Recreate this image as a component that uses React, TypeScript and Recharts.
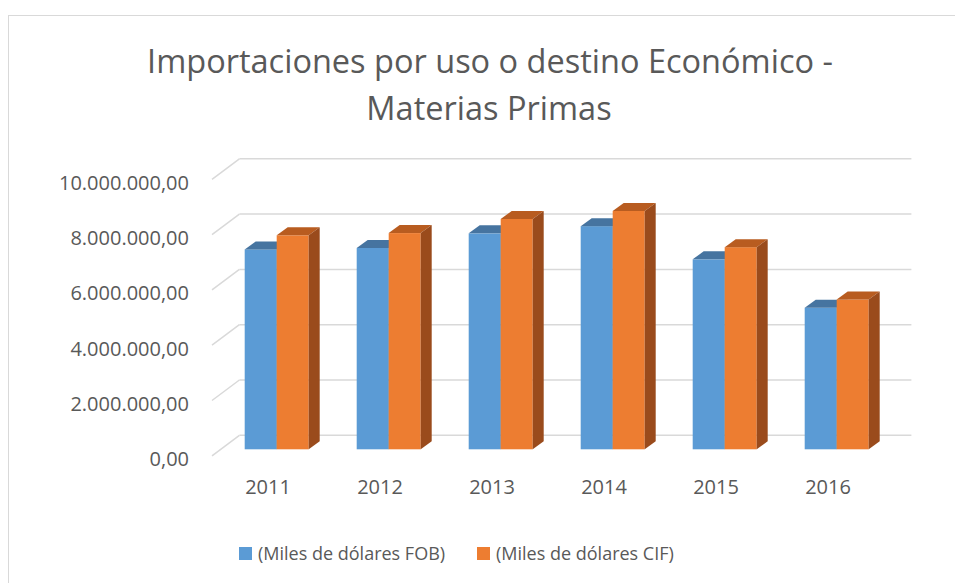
import React from 'react';
import { BarChart, Bar, XAxis, YAxis, CartesianGrid, Legend } from 'recharts';

const years = ['2011', '2012', '2013', '2014', '2015', '2016'];
const fobValues = [7230000, 7280000, 7810000, 8070000, 6870000, 5120000];
const cifValues = [7740000, 7820000, 8330000, 8620000, 7310000, 5420000];
const yTicks = [0, 2000000, 4000000, 6000000, 8000000, 10000000];
const seriesNames = ['(Miles de dólares FOB)', '(Miles de dólares CIF)'];
const titleLines = ['Importaciones por uso o destino Económico -', 'Materias Primas'];

const data = years.map((year, i) => ({ year, fob: fobValues[i], cif: cifValues[i] }));

const W = 955;
const H = 583;
const FONT = '"Open Sans", sans-serif';
const TEXT = '#595959';
const GRID = '#D9D9D9';

// oblique projection offsets
const FRONT_DX = -8.7; // bar plane -> front edge
const FRONT_DY = 6.5;
const BACK_DX = 18.7; // bar plane -> back wall
const BACK_DY = -14;
const BAR_DX = 11;
const BAR_DY = 8;

const fmt = (v: number) => {
  const int = Math.round(v).toString();
  const grouped = int.replace(/\B(?=(\d{3})+(?!\d))/g, '.');
  return grouped + ',00';
};

const make3D = (front: string, top: string, side: string) => (props: any) => {
  const { x, y, width, height } = props;
  if (width == null || height == null) return <g />;
  const p = (pts: number[][]) => pts.map((q) => q.join(',')).join(' ');
  return (
    <g>
      <rect x={x} y={y} width={width} height={height} fill={front} />
      <polygon
        points={p([
          [x, y],
          [x + BAR_DX, y - BAR_DY],
          [x + width + BAR_DX, y - BAR_DY],
          [x + width, y],
        ])}
        fill={top}
      />
      <polygon
        points={p([
          [x + width, y],
          [x + width + BAR_DX, y - BAR_DY],
          [x + width + BAR_DX, y + height - BAR_DY],
          [x + width, y + height],
        ])}
        fill={side}
      />
    </g>
  );
};

const gridLine = (props: any) => {
  const { x1, x2, y1 } = props;
  return (
    <g key={props.key}>
      <line x1={x1 + BACK_DX} x2={x2 + BACK_DX} y1={y1 + BACK_DY} y2={y1 + BACK_DY} stroke={GRID} strokeWidth={1.5} />
      <line x1={x1 + FRONT_DX} y1={y1 + FRONT_DY} x2={x1 + BACK_DX} y2={y1 + BACK_DY} stroke={GRID} strokeWidth={1.5} />
    </g>
  );
};

const PLOT_LEFT = 220.7;
const PLOT_RIGHT = 892.7;
const PLOT_TOP = 172.8;
const PLOT_BOTTOM = 449.3;

const YTick = (props: any) => {
  const { y, payload } = props;
  return (
    <text x={PLOT_LEFT - 31.7} y={y + 17} textAnchor="end" fill={TEXT} fontFamily={FONT} fontSize={20}>
      {fmt(payload.value)}
    </text>
  );
};

const XTick = (props: any) => {
  const { x, payload } = props;
  return (
    <text x={x + FRONT_DX} y={PLOT_BOTTOM + 45} textAnchor="middle" fill={TEXT} fontFamily={FONT} fontSize={20}>
      {payload.value}
    </text>
  );
};

const LegendContent = () => {
  const colors = ['#5B9BD5', '#ED7D31'];
  const lefts = [239, 477];
  return (
    <div style={{ position: 'relative', width: W, height: 30 }}>
      {seriesNames.map((n, i) => (
        <div
          key={n}
          style={{
            position: 'absolute',
            left: lefts[i],
            top: 0,
            display: 'flex',
            alignItems: 'center',
            whiteSpace: 'nowrap',
            fontFamily: FONT,
            fontSize: 18,
            color: TEXT,
            height: 30,
          }}
        >
          <span style={{ display: 'inline-block', width: 13, height: 13, background: colors[i], marginRight: 6 }} />
          <span>{n}</span>
        </div>
      ))}
    </div>
  );
};

export default function App() {
  return (
    <div style={{ position: 'absolute', left: 0, top: 0, width: W, height: H, overflow: 'hidden', background: '#fff' }}>
      <div
        style={{
          position: 'absolute',
          left: 8,
          top: 15,
          width: W + 20,
          height: H + 20,
          borderTop: `1.5px solid ${GRID}`,
          borderLeft: `1.5px solid ${GRID}`,
        }}
      />
      <svg width={W} height={140} style={{ position: 'absolute', left: 0, top: 0 }}>
        <text x={490} y={73} textAnchor="middle" fill={TEXT} fontFamily={FONT} fontSize={32.5}>
          {titleLines[0]}
        </text>
        <text x={489} y={120} textAnchor="middle" fill={TEXT} fontFamily={FONT} fontSize={32.5}>
          {titleLines[1]}
        </text>
      </svg>
      <div style={{ position: 'absolute', left: 0, top: 0 }}>
        <BarChart
          width={W}
          height={H}
          data={data}
          margin={{ top: PLOT_TOP, right: W - PLOT_RIGHT, bottom: H - PLOT_BOTTOM - 1, left: PLOT_LEFT - 1 }}
          barCategoryGap={24}
          barGap={0}
        >
          <CartesianGrid vertical={false} horizontal={gridLine} />
          <XAxis dataKey="year" height={1} axisLine={false} tickLine={false} tickSize={0} tickMargin={0} tick={<XTick />} interval={0} />
          <YAxis
            width={1}
            domain={[0, 10000000]}
            ticks={yTicks}
            axisLine={false}
            tickLine={false}
            tickSize={0}
            tickMargin={0}
            tick={<YTick />}
            interval={0}
          />
          <Legend
            layout="horizontal"
            verticalAlign="middle"
            align="center"
            wrapperStyle={{ top: 538, left: 0, bottom: 'auto', width: W }}
            content={<LegendContent />}
          />
          <Bar dataKey="fob" name={seriesNames[0]} fill="#5B9BD5" isAnimationActive={false} shape={make3D('#5B9BD5', '#4674A0', '#3E6A94')} />
          <Bar dataKey="cif" name={seriesNames[1]} fill="#ED7D31" isAnimationActive={false} shape={make3D('#ED7D31', '#B85C20', '#9A4B1C')} />
        </BarChart>
      </div>
    </div>
  );
}
